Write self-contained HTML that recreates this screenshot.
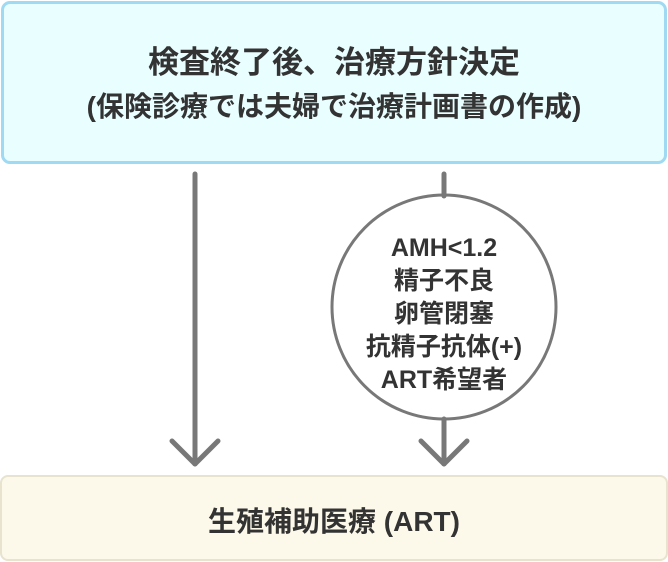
<!DOCTYPE html>
<html><head><meta charset="utf-8"><style>
body{margin:0;width:668px;height:562px;background:#fff;position:relative;overflow:hidden;font-family:"Liberation Sans","Noto Sans CJK JP",sans-serif;font-weight:bold;color:#333}
.top{position:absolute;left:1px;top:1px;width:660px;height:157px;border:3px solid #9fd9f2;border-radius:9px;background:#e9feff}
.bot{position:absolute;left:0;top:475px;width:664px;height:82px;border:2px solid #e7e3cf;border-radius:8px;background:#fdf9ea}
.t{position:absolute;left:0;width:668px;text-align:center;white-space:nowrap;line-height:1}
</style></head><body>
<div class="top"></div>
<div class="bot"></div>
<svg width="668" height="562" style="position:absolute;left:0;top:0" fill="none" stroke="#787878" stroke-width="5" stroke-linecap="round" stroke-linejoin="round">
<line x1="195" y1="174" x2="195" y2="464"/>
<polyline points="172,441 195,464 218,441"/>
<line x1="444" y1="174" x2="444" y2="196"/>
<circle cx="444" cy="307" r="112" stroke-width="3"/>
<line x1="444" y1="419" x2="444" y2="464"/>
<polyline points="421,441 444,464 467,441"/>
</svg>
<div class="t" style="top:47px;font-size:31px">検査終了後、治療方針決定</div>
<div class="t" style="top:93px;font-size:28px">(保険診療では夫婦で治療計画書の作成)</div>
<div class="t" style="top:508px;font-size:28px">生殖補助医療 (ART)</div>
<div class="t" style="left:324px;width:240px;top:232px;font-size:25px;line-height:33px">AMH&lt;1.2<br>精子不良<br>卵管閉塞<br>抗精子抗体(+)<br>ART希望者</div>
</body></html>
